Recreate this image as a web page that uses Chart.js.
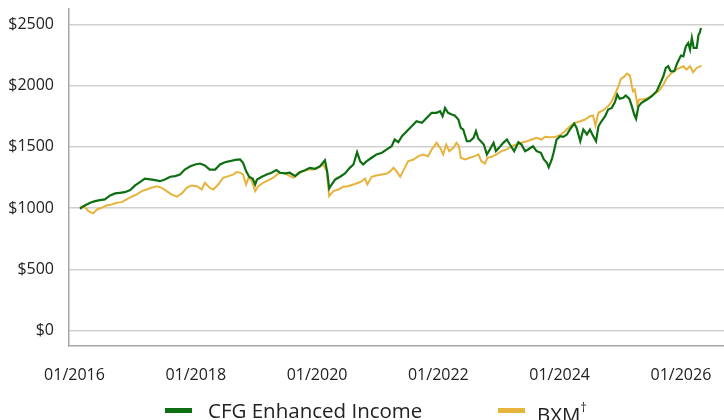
<!DOCTYPE html>
<html>
<head>
<meta charset="utf-8">
<script src="https://cdn.jsdelivr.net/npm/chart.js@4"></script>
<style>
  html, body { margin: 0; padding: 0; background: #fff; }
  #wrap { position: relative; width: 724px; height: 420px; }
  #legend { position: absolute; left: 0; top: 398px; width: 724px; height: 24px;
    font-family: "Open Sans", sans-serif; font-size: 20.5px; line-height: 24px; color: #222; }
  .item { position: absolute; top: 0; height: 24px; white-space: nowrap; }
  .swatch { position: absolute; top: 10px; width: 27px; height: 5px; }
  .label { position: absolute; top: 0; }
  sup { font-size: 12px; position: relative; top: -2px; }
</style>
</head>
<body>
<div id="wrap">
  <canvas id="chart" width="724" height="420"></canvas>
  <div id="legend">
    <div class="item" style="left:165px"><span class="swatch" style="background:#0e6f12"></span><span class="label" style="left:43px">CFG Enhanced Income</span></div>
    <div class="item" style="left:498px"><span class="swatch" style="background:#e6b43c"></span><span class="label" style="left:39px">BXM<sup>†</sup></span></div>
  </div>
</div>
<script>
// growth of $1000 (x in decimal years)
const cfgYears = [
  2016.09,2016.17,2016.26,2016.34,2016.42,2016.50,2016.59,2016.67,2016.75,2016.83,
  2016.92,2017.00,2017.08,2017.16,2017.25,2017.33,2017.41,2017.49,2017.58,2017.66,
  2017.74,2017.82,2017.91,2017.99,2018.07,2018.15,2018.23,2018.32,2018.40,2018.48,
  2018.56,2018.65,2018.73,2018.78,2018.83,2018.88,2018.94,2018.98,2019.01,2019.09,
  2019.17,2019.25,2019.33,2019.39,2019.47,2019.55,2019.64,2019.72,2019.80,2019.88,
  2019.97,2020.05,2020.13,2020.17,2020.20,2020.24,2020.30,2020.38,2020.46,2020.54,
  2020.60,2020.66,2020.71,2020.76,2020.82,2020.90,2020.98,2021.07,2021.15,2021.23,
  2021.28,2021.34,2021.40,2021.48,2021.56,2021.64,2021.73,2021.81,2021.89,2021.97,
  2022.03,2022.07,2022.11,2022.16,2022.22,2022.27,2022.33,2022.37,2022.41,2022.47,
  2022.52,2022.58,2022.62,2022.66,2022.70,2022.75,2022.80,2022.85,2022.91,2022.95,
  2023.00,2023.07,2023.13,2023.18,2023.25,2023.32,2023.37,2023.43,2023.48,2023.56,
  2023.62,2023.69,2023.74,2023.79,2023.82,2023.87,2023.90,2023.95,2024.01,2024.06,
  2024.12,2024.17,2024.24,2024.28,2024.34,2024.39,2024.45,2024.50,2024.54,2024.60,
  2024.64,2024.69,2024.75,2024.80,2024.86,2024.91,2024.95,2024.99,2025.05,2025.09,
  2025.15,2025.19,2025.23,2025.26,2025.30,2025.35,2025.44,2025.52,2025.60,2025.65,
  2025.71,2025.75,2025.79,2025.83,2025.89,2025.94,2026.00,2026.04,2026.08,2026.12,
  2026.15,2026.18,2026.21,2026.26,2026.29,2026.31,2026.33
];
const cfgValues = [
  995,1022,1044,1057,1065,1071,1104,1120,1125,1130,
  1147,1185,1212,1240,1234,1228,1220,1234,1256,1261,
  1275,1315,1342,1356,1364,1348,1315,1315,1356,1375,
  1383,1394,1397,1370,1302,1256,1240,1193,1234,1256,
  1275,1289,1310,1289,1283,1289,1261,1294,1310,1329,
  1321,1342,1391,1289,1160,1193,1234,1256,1283,1329,
  1356,1456,1383,1356,1383,1411,1438,1452,1479,1505,
  1560,1538,1587,1628,1668,1709,1696,1737,1778,1778,
  1791,1750,1818,1778,1764,1756,1723,1655,1642,1546,
  1546,1574,1628,1566,1546,1519,1438,1479,1533,1465,
  1492,1533,1560,1519,1465,1538,1519,1465,1479,1505,
  1465,1452,1397,1370,1333,1397,1452,1560,1587,1582,
  1601,1642,1690,1655,1546,1642,1601,1642,1601,1546,
  1668,1709,1750,1805,1818,1864,1927,1892,1900,1919,
  1892,1832,1764,1729,1832,1859,1886,1913,1954,2008,
  2076,2144,2158,2117,2117,2185,2245,2239,2320,2348,
  2294,2389,2308,2308,2416,2430,2470
];
const bxmYears = [
  2016.09,2016.17,2016.23,2016.31,2016.37,2016.45,2016.53,2016.61,2016.70,2016.78,
  2016.86,2016.94,2017.03,2017.11,2017.19,2017.27,2017.36,2017.44,2017.52,2017.60,
  2017.69,2017.77,2017.85,2017.93,2018.02,2018.10,2018.15,2018.23,2018.29,2018.37,
  2018.45,2018.54,2018.62,2018.67,2018.73,2018.78,2018.83,2018.87,2018.92,2018.98,
  2019.03,2019.11,2019.20,2019.28,2019.36,2019.44,2019.53,2019.61,2019.69,2019.77,
  2019.86,2019.94,2020.02,2020.10,2020.16,2020.20,2020.27,2020.35,2020.43,2020.51,
  2020.60,2020.68,2020.74,2020.79,2020.83,2020.90,2020.98,2021.07,2021.15,2021.21,
  2021.26,2021.31,2021.37,2021.42,2021.50,2021.59,2021.67,2021.75,2021.83,2021.89,
  2021.97,2022.03,2022.08,2022.13,2022.18,2022.25,2022.30,2022.34,2022.37,2022.44,
  2022.52,2022.60,2022.66,2022.71,2022.77,2022.81,2022.88,2022.96,2023.04,2023.13,
  2023.21,2023.29,2023.37,2023.46,2023.54,2023.62,2023.70,2023.76,2023.84,2023.92,
  2024.01,2024.09,2024.17,2024.25,2024.34,2024.42,2024.50,2024.55,2024.59,2024.64,
  2024.72,2024.80,2024.86,2024.91,2024.97,2025.01,2025.06,2025.11,2025.16,2025.19,
  2025.21,2025.24,2025.28,2025.31,2025.38,2025.46,2025.54,2025.63,2025.71,2025.77,
  2025.85,2025.92,2025.98,2026.04,2026.09,2026.15,2026.20,2026.26,2026.34
];
const bxmValues = [
  1011,1011,975,957,989,1003,1022,1030,1044,1049,
  1071,1093,1112,1139,1152,1166,1179,1166,1139,1112,
  1093,1120,1166,1185,1179,1152,1207,1166,1152,1193,
  1248,1261,1275,1294,1290,1275,1193,1248,1228,1139,
  1179,1207,1228,1248,1283,1289,1267,1248,1289,1302,
  1315,1315,1329,1356,1302,1098,1139,1152,1174,1179,
  1193,1207,1220,1240,1193,1256,1267,1275,1283,1302,
  1329,1302,1256,1302,1383,1397,1424,1438,1424,1479,
  1533,1492,1438,1519,1465,1492,1533,1505,1411,1397,
  1411,1424,1438,1383,1364,1411,1419,1438,1465,1479,
  1505,1519,1533,1546,1560,1574,1560,1582,1578,1580,
  1597,1628,1668,1696,1709,1723,1750,1756,1674,1778,
  1799,1832,1872,1927,1995,2055,2071,2098,2082,1995,
  1954,1968,1845,1886,1886,1900,1927,1954,2008,2063,
  2104,2131,2144,2158,2131,2158,2109,2144,2163
];
const xTickYears = [2016, 2018, 2020, 2022, 2024, 2026];
const xTickLabels = ['01/2016', '01/2018', '01/2020', '01/2022', '01/2024', '01/2026'];
const yTicks = [0, 500, 1000, 1500, 2000, 2500];

const toPoints = (xs, ys) => xs.map((x, i) => ({ x: x, y: ys[i] }));
const tickFont = { family: 'Open Sans', size: 16 };

new Chart(document.getElementById('chart'), {
  type: 'line',
  data: {
    datasets: [
      {
        label: 'CFG Enhanced Income',
        data: toPoints(cfgYears, cfgValues),
        borderColor: '#0e6f12',
        borderWidth: 2.2,
        pointRadius: 0,
        tension: 0
      },
      {
        label: 'BXM†',
        data: toPoints(bxmYears, bxmValues),
        borderColor: '#e6b43c',
        borderWidth: 2,
        pointRadius: 0,
        tension: 0
      }
    ]
  },
  options: {
    responsive: false,
    animation: false,
    layout: { padding: { left: 8, top: 9, right: 0, bottom: 34 } },
    plugins: { legend: { display: false }, tooltip: { enabled: false } },
    scales: {
      x: {
        type: 'linear',
        min: 2015.91,
        max: 2026.71,
        afterBuildTicks: (s) => { s.ticks = xTickYears.map(v => ({ value: v })); },
        afterFit: (s) => { s.height = 40; s.paddingLeft = 0; s.paddingRight = 0; },
        ticks: {
          font: tickFont,
          color: '#222',
          padding: 20,
          maxRotation: 0,
          autoSkip: false,
          callback: (v) => xTickLabels[xTickYears.indexOf(v)]
        },
        grid: { display: false, drawTicks: false },
        border: { display: true, color: '#a6a6a6', width: 1.5 }
      },
      y: {
        min: -125,
        max: 2625,
        afterBuildTicks: (s) => { s.ticks = yTicks.map(v => ({ value: v })); },
        afterFit: (s) => { s.width = 61; s.paddingTop = 0; s.paddingBottom = 0; },
        ticks: {
          font: tickFont,
          color: '#222',
          padding: 15,
          callback: (v) => '$' + v
        },
        grid: { color: '#d0d0d0', lineWidth: 1.5, drawTicks: false },
        border: { display: true, color: '#a6a6a6', width: 1.5 }
      }
    }
  }
});
</script>
</body>
</html>
